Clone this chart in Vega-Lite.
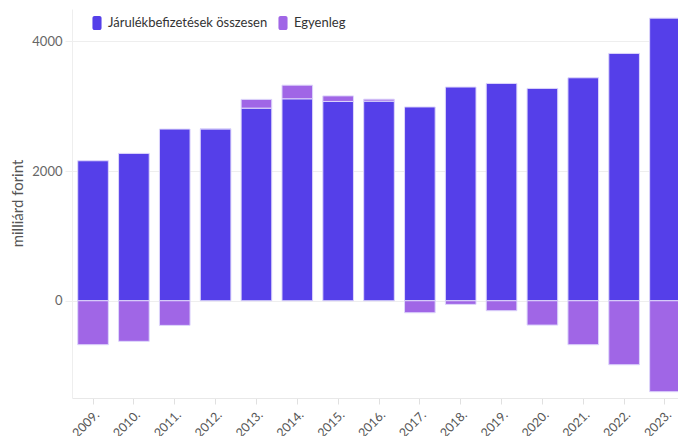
{
  "$schema": "https://vega.github.io/schema/vega-lite/v6.json",
  "autosize": "none",
  "width": 606,
  "height": 389,
  "padding": {"left": 72, "top": 9, "right": 0, "bottom": 38},
  "background": "white",
  "config": {
    "font": "Lato",
    "view": {"stroke": null}
  },
  "data": {
    "values": [
      {"ev": "2009.", "sorozat": "Járulékbefizetések összesen", "ertek": 2159},
      {"ev": "2010.", "sorozat": "Járulékbefizetések összesen", "ertek": 2273},
      {"ev": "2011.", "sorozat": "Járulékbefizetések összesen", "ertek": 2648},
      {"ev": "2012.", "sorozat": "Járulékbefizetések összesen", "ertek": 2652},
      {"ev": "2013.", "sorozat": "Járulékbefizetések összesen", "ertek": 2971},
      {"ev": "2014.", "sorozat": "Járulékbefizetések összesen", "ertek": 3115},
      {"ev": "2015.", "sorozat": "Járulékbefizetések összesen", "ertek": 3074},
      {"ev": "2016.", "sorozat": "Járulékbefizetések összesen", "ertek": 3079},
      {"ev": "2017.", "sorozat": "Járulékbefizetések összesen", "ertek": 2989},
      {"ev": "2018.", "sorozat": "Járulékbefizetések összesen", "ertek": 3296},
      {"ev": "2019.", "sorozat": "Járulékbefizetések összesen", "ertek": 3352},
      {"ev": "2020.", "sorozat": "Járulékbefizetések összesen", "ertek": 3275},
      {"ev": "2021.", "sorozat": "Járulékbefizetések összesen", "ertek": 3439},
      {"ev": "2022.", "sorozat": "Járulékbefizetések összesen", "ertek": 3815},
      {"ev": "2023.", "sorozat": "Járulékbefizetések összesen", "ertek": 4359},
      {"ev": "2009.", "sorozat": "Egyenleg", "ertek": -678},
      {"ev": "2010.", "sorozat": "Egyenleg", "ertek": -626},
      {"ev": "2011.", "sorozat": "Egyenleg", "ertek": -380},
      {"ev": "2012.", "sorozat": "Egyenleg", "ertek": 0},
      {"ev": "2013.", "sorozat": "Egyenleg", "ertek": 135},
      {"ev": "2014.", "sorozat": "Egyenleg", "ertek": 210},
      {"ev": "2015.", "sorozat": "Egyenleg", "ertek": 86},
      {"ev": "2016.", "sorozat": "Egyenleg", "ertek": 30},
      {"ev": "2017.", "sorozat": "Egyenleg", "ertek": -185},
      {"ev": "2018.", "sorozat": "Egyenleg", "ertek": -56},
      {"ev": "2019.", "sorozat": "Egyenleg", "ertek": -154},
      {"ev": "2020.", "sorozat": "Egyenleg", "ertek": -375},
      {"ev": "2021.", "sorozat": "Egyenleg", "ertek": -678},
      {"ev": "2022.", "sorozat": "Egyenleg", "ertek": -987},
      {"ev": "2023.", "sorozat": "Egyenleg", "ertek": -1403}
    ]
  },
  "transform": [
    {"calculate": "datum.sorozat === 'Egyenleg' ? 1 : 0", "as": "rend"}
  ],
  "mark": {"type": "bar", "stroke": "#ddd6fb", "strokeWidth": 1},
  "encoding": {
    "x": {
      "field": "ev",
      "type": "nominal",
      "sort": null,
      "scale": {"range": [0, 614], "paddingInner": 0.25, "paddingOuter": 0.14},
      "axis": {
        "title": null,
        "labelAngle": -45,
        "labelFontSize": 12.5,
        "labelColor": "#555555",
        "labelPadding": 4,
        "domainColor": "#e8e8e8",
        "tickColor": "#e0e0e0",
        "tickSize": 6,
        "grid": false
      }
    },
    "y": {
      "field": "ertek",
      "type": "quantitative",
      "stack": "zero",
      "scale": {"domain": [-1500, 4500], "nice": false},
      "axis": {
        "title": "milliárd forint",
        "values": [0, 2000, 4000],
        "format": "d",
        "labelFontSize": 13,
        "labelColor": "#666666",
        "labelPadding": 3,
        "tickSize": 7,
        "tickColor": "#eeeeee",
        "gridColor": "#eeeeee",
        "domainColor": "#eeeeee",
        "titleFontSize": 15,
        "titleFontWeight": "normal",
        "titleColor": "#555555",
        "titleX": -50,
        "titleY": 194,
        "titleAngle": -90,
        "titleAlign": "center",
        "titleBaseline": "alphabetic"
      }
    },
    "color": {
      "field": "sorozat",
      "type": "nominal",
      "sort": ["Járulékbefizetések összesen", "Egyenleg"],
      "scale": {"domain": ["Járulékbefizetések összesen", "Egyenleg"], "range": ["#553fe9", "#a066e6"]},
      "legend": {
        "title": null,
        "orient": "none",
        "direction": "horizontal",
        "legendX": 18,
        "legendY": 7,
        "padding": 0,
        "symbolType": "M-0.35,-1H0.35A0.3,0.3 0 0 1 0.65,-0.7V0.7A0.3,0.3 0 0 1 0.35,1H-0.35A0.3,0.3 0 0 1 -0.65,0.7V-0.7A0.3,0.3 0 0 1 -0.35,-1Z",
        "symbolSize": 196,
        "symbolStrokeWidth": 0,
        "symbolOpacity": 1,
        "labelFontSize": 13,
        "labelColor": "#333333",
        "labelOffset": 4,
        "columnPadding": 8
      }
    },
    "order": {"field": "rend", "type": "quantitative"}
  }
}
